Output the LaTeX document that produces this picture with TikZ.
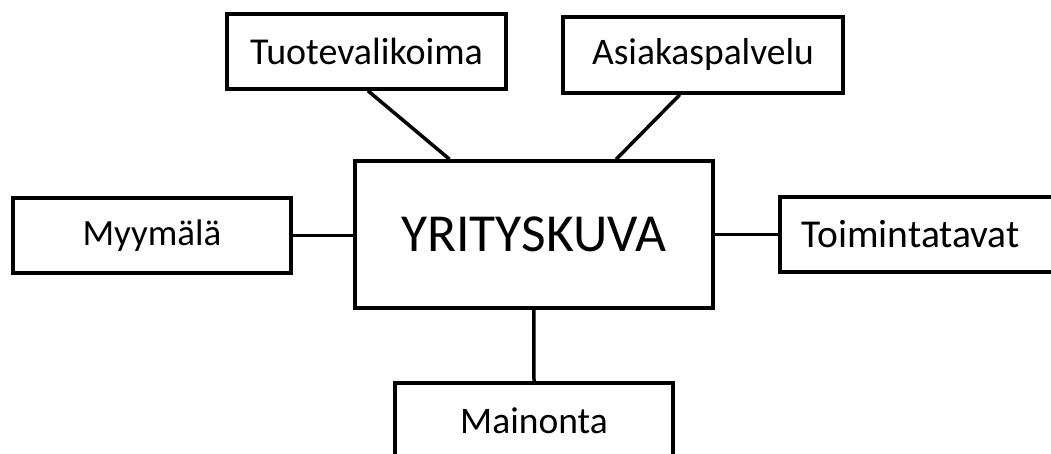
\documentclass[tikz,border=0pt]{standalone}
\usepackage{fontspec}
\setmainfont{Carlito}
\usetikzlibrary{calc}
\begin{document}
\begin{tikzpicture}[x=1pt,y=-1pt,
  box/.style={draw=black, line width=3.5pt, fill=white, inner sep=0pt,
    font=\fontsize{37.5}{45}\selectfont},
  link/.style={draw=black, line width=3.5pt}]
\useasboundingbox (0,0) rectangle (1051,454);
\clip (0,0) rectangle (1051,454);
\node[box, minimum width=358pt, minimum height=147pt,
  font=\fontsize{53.5}{64}\selectfont] (center) at (533.75,234.5) {YRITYSKUVA};
\node[box, minimum width=279pt, minimum height=75pt,
  font=\fontsize{38}{45}\selectfont] (tuote) at (366.5,51.5) {Tuotevalikoima};
\node[box, minimum width=280pt, minimum height=76pt] (asiakas) at (703,55) {Asiakaspalvelu};
\node[box, minimum width=278pt, minimum height=75pt,
  font=\fontsize{37}{45}\selectfont] (myy) at (152,235.5) {Myymälä};
\node[box, anchor=west, text width=245pt, inner xsep=22pt, align=left,
  minimum height=75pt, font=\fontsize{39.5}{47}\selectfont] (toim) at (778,234.5) {Toimintatavat};
\node[box, minimum width=278pt, minimum height=75pt] (main) at (534,420.5) {Mainonta};
\coordinate (tA) at ($(tuote.south west)!0.505!(tuote.south east)$);
\coordinate (cA) at ($(center.north west)!0.267!(center.north east)$);
\coordinate (aA) at ($(asiakas.south west)!0.418!(asiakas.south east)$);
\coordinate (cB) at ($(center.north west)!0.728!(center.north east)$);
\draw[link] (tA) -- (cA);
\draw[link] (aA) -- (cB);
\draw[link] (myy.east) -- (myy.east -| center.west);
\draw[link] (center.east) -- (toim.west);
\draw[link] (center.south) -- (main.north);
\end{tikzpicture}
\end{document}
